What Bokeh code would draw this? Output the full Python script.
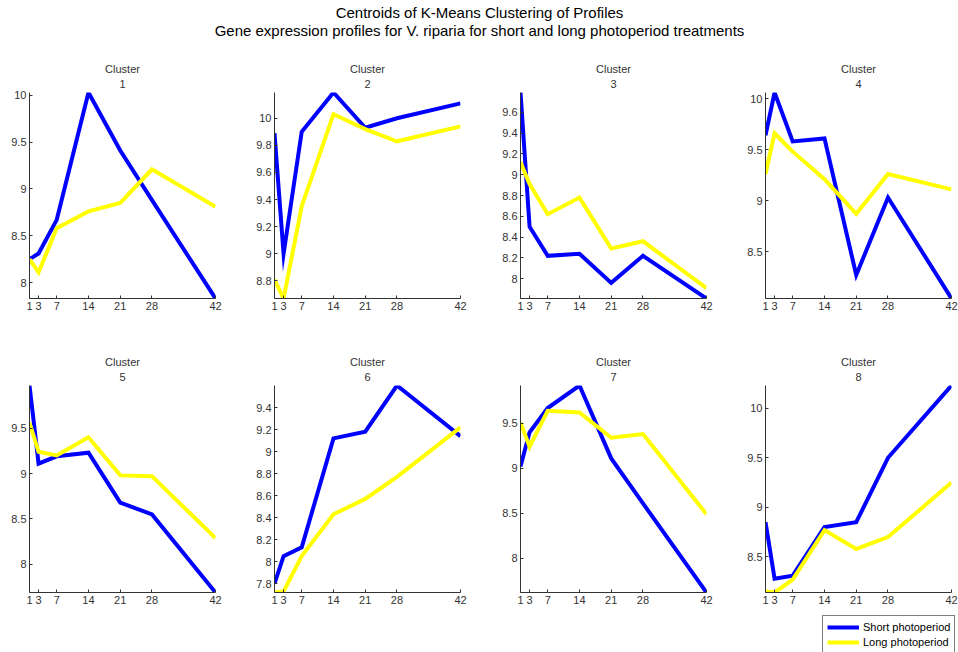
from bokeh.plotting import figure
from bokeh.layouts import column, row
from bokeh.models import Range1d, FixedTicker, Label, Title, Legend, LegendItem
from bokeh.embed import file_html
from bokeh.resources import INLINE

FONT = "Liberation Sans"
TXT = "#333333"

days = [1, 3, 7, 14, 21, 28, 42]
day_labels = ["1", "3", "7", "14", "21", "28", "42"]

short_1 = [8.25, 8.31, 8.67, 10.03, 9.41, 8.88, 7.83]
long_1 = [8.25, 8.11, 8.58, 8.76, 8.85, 9.21, 8.81]
short_2 = [9.89, 9.00, 9.90, 10.19, 9.93, 10.00, 10.11]
long_2 = [8.81, 8.67, 9.35, 10.03, 9.92, 9.83, 9.94]
short_3 = [9.79, 8.50, 8.22, 8.24, 7.96, 8.22, 7.81]
long_3 = [9.12, 8.91, 8.62, 8.78, 8.29, 8.36, 7.91]
short_4 = [9.64, 10.06, 9.58, 9.61, 8.27, 9.03, 8.04]
long_4 = [9.26, 9.66, 9.48, 9.21, 8.87, 9.26, 9.11]
short_5 = [9.97, 9.11, 9.19, 9.23, 8.68, 8.55, 7.69]
long_5 = [9.56, 9.24, 9.20, 9.40, 8.98, 8.97, 8.29]
short_6 = [7.80, 8.05, 8.13, 9.12, 9.18, 9.60, 9.14]
long_6 = [7.72, 7.73, 8.05, 8.43, 8.57, 8.77, 9.22]
short_7 = [9.02, 9.40, 9.67, 9.92, 9.11, 8.61, 7.62]
long_7 = [9.51, 9.24, 9.64, 9.62, 9.34, 9.38, 8.49]
short_8 = [8.85, 8.28, 8.31, 8.80, 8.85, 9.50, 10.23]
long_8 = [8.15, 8.14, 8.27, 8.77, 8.58, 8.70, 9.25]

yticks_1 = ["8", "8.5", "9", "9.5", "10"]
yticks_2 = ["8.8", "9", "9.2", "9.4", "9.6", "9.8", "10"]
yticks_3 = ["8", "8.2", "8.4", "8.6", "8.8", "9", "9.2", "9.4", "9.6"]
yticks_4 = ["8.5", "9", "9.5", "10"]
yticks_5 = ["8", "8.5", "9", "9.5"]
yticks_6 = ["7.8", "8", "8.2", "8.4", "8.6", "8.8", "9", "9.2", "9.4"]
yticks_7 = ["8", "8.5", "9", "9.5"]
yticks_8 = ["8.5", "9", "9.5", "10"]

clusters = [
    ("1", short_1, long_1, yticks_1),
    ("2", short_2, long_2, yticks_2),
    ("3", short_3, long_3, yticks_3),
    ("4", short_4, long_4, yticks_4),
    ("5", short_5, long_5, yticks_5),
    ("6", short_6, long_6, yticks_6),
    ("7", short_7, long_7, yticks_7),
    ("8", short_8, long_8, yticks_8),
]

title_1 = "Centroids of K-Means Clustering of Profiles"
title_2 = "Gene expression profiles for V. riparia for short and long photoperiod treatments"
legend_labels = ["Short photoperiod", "Long photoperiod"]
BLUE = "#0000ff"
YELLOW = "#ffff00"

# title strip
tp = figure(width=958, height=45, output_backend="svg", toolbar_location=None,
            x_range=Range1d(0, 958), y_range=Range1d(0, 45),
            min_border=0, outline_line_color=None)
tp.axis.visible = False
tp.grid.visible = False
tp.add_layout(Label(x=479, y=33, text=title_1, text_align="center", text_baseline="middle",
                    text_font=FONT, text_font_size="15px", text_color="#000000"))
tp.add_layout(Label(x=479, y=15, text=title_2, text_align="center", text_baseline="middle",
                    text_font=FONT, text_font_size="15px", text_color="#000000"))

col_left = [29, 29, 30, 30]
col_w = [245, 245, 245, 223]

figs = []
for i, (num, s, l, yt) in enumerate(clusters):
    r, c = divmod(i, 4)
    if r == 0:
        top, fh, bot = 47, 206, 47
    else:
        top, fh, bot = 40, 207, 20
    lo = min(min(s), min(l))
    hi = max(max(s), max(l))
    p = figure(width=col_w[c], height=top + fh + bot, output_backend="svg",
               toolbar_location=None,
               x_range=Range1d(days[0], days[-1]), y_range=Range1d(lo, hi),
               min_border_left=col_left[c], min_border_right=col_w[c] - col_left[c] - 186,
               min_border_top=top, min_border_bottom=bot,
               outline_line_color=None)
    p.grid.visible = False
    p.line(days, s, line_color=BLUE, line_width=4, line_join="miter")
    p.line(days, l, line_color=YELLOW, line_width=4, line_join="miter")
    p.xaxis.ticker = FixedTicker(ticks=days)
    p.xaxis.major_label_overrides = {d: t for d, t in zip(days, day_labels)}
    yvals = [float(t) for t in yt]
    p.yaxis.ticker = FixedTicker(ticks=yvals)
    p.yaxis.major_label_overrides = {v: t for v, t in zip(yvals, yt)}
    for ax in (p.xaxis[0], p.yaxis[0]):
        ax.major_tick_in = 3
        ax.major_tick_out = 0
        ax.minor_tick_line_color = None
        ax.axis_line_color = TXT
        ax.major_tick_line_color = TXT
        ax.major_label_text_color = TXT
        ax.major_label_text_font = FONT
        ax.major_label_text_font_size = "11px"
        ax.major_label_standoff = 3
    p.add_layout(Title(text=num, align="center", text_font=FONT, text_font_size="11px",
                       text_font_style="normal", text_color=TXT, standoff=9, offset=0), "above")
    p.add_layout(Title(text="Cluster", align="center", text_font=FONT, text_font_size="11px",
                       text_font_style="normal", text_color=TXT, standoff=-3, offset=0), "above")
    figs.append(p)

# legend strip (proxy renderers, hidden; only their styles feed the legend)
lp = figure(width=958, height=40, output_backend="svg", toolbar_location=None,
            x_range=Range1d(0, 958), y_range=Range1d(0, 40),
            min_border=0, outline_line_color=None)
lp.axis.visible = False
lp.grid.visible = False
ls = lp.line(days, short_8, line_color=BLUE, line_width=4, visible=False)
ll = lp.line(days, long_8, line_color=YELLOW, line_width=4, visible=False)
leg = Legend(items=[LegendItem(label=legend_labels[0], renderers=[ls]),
                    LegendItem(label=legend_labels[1], renderers=[ll])],
             location=(822, -2), orientation="vertical",
             label_text_font=FONT, label_text_font_size="11px",
             label_text_color="#000000", label_height=14, glyph_height=14,
             glyph_width=32, label_standoff=4, spacing=1, padding=4, margin=0,
             border_line_color="#000000", border_line_width=1,
             background_fill_color="#ffffff", background_fill_alpha=1,
             inactive_fill_alpha=0)
lp.add_layout(leg, "center")

layout = column(tp, row(*figs[:4]), row(*figs[4:]), lp)
open("out.html", "w").write(file_html(layout, INLINE))
